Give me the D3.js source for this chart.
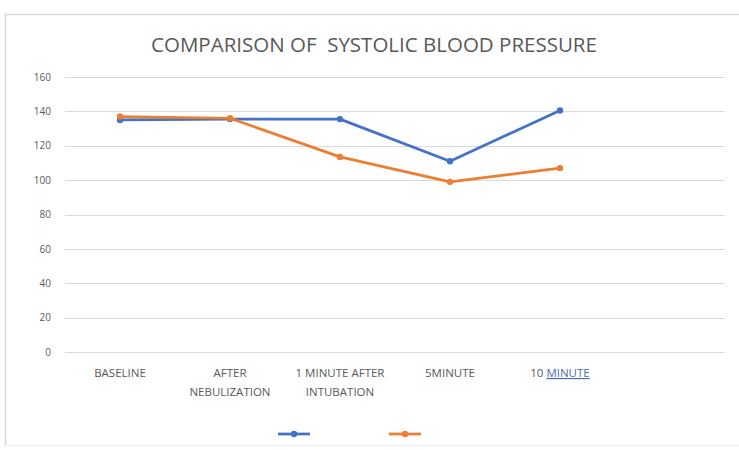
<!DOCTYPE html>
<html>
<head>
<meta charset="utf-8">
<script src="https://cdn.jsdelivr.net/npm/d3@7"></script>
<style>
  body { margin: 0; background: #fff; }
  text { font-family: "Open Sans", "Liberation Sans", sans-serif; fill: #595959; }
</style>
</head>
<body>
<div id="chart"></div>
<script>
// Chart data
const CATEGORIES = ['BASELINE', 'AFTER NEBULIZATION', '1 MINUTE AFTER INTUBATION', '5MINUTE', '10 MINUTE', ''];
const SERIES_A = [135, 135.5, 135.5, 111, 140.5];
const SERIES_B = [137, 136, 113.5, 99, 107];
const Y_TICKS = [0, 20, 40, 60, 80, 100, 120, 140, 160];
const TITLE = 'COMPARISON OF  SYSTOLIC BLOOD PRESSURE';

const WIDTH = 739, HEIGHT = 450;
const MARGIN = {top: 77, right: 14, bottom: 98, left: 65};
const COLORS = ['#4472C4', '#ED7D31'];

const svg = d3.select('#chart').append('svg')
  .attr('width', WIDTH)
  .attr('height', HEIGHT);

// Outer frame
svg.append('path')
  .attr('d', `M5.5,${HEIGHT - 4}V14.5H${WIDTH}`)
  .attr('fill', 'none')
  .attr('stroke', '#d9d9d9')
  .attr('stroke-width', 1.5);
svg.append('line')
  .attr('x1', 5).attr('x2', WIDTH)
  .attr('y1', HEIGHT - 4.5).attr('y2', HEIGHT - 4.5)
  .attr('stroke', '#eeeeee');

const innerW = WIDTH - MARGIN.left - MARGIN.right;
const innerH = HEIGHT - MARGIN.top - MARGIN.bottom;

const g = svg.append('g')
  .attr('transform', `translate(${MARGIN.left}, ${MARGIN.top})`);

const x = d3.scaleBand().domain(CATEGORIES).range([0, innerW]);
const y = d3.scaleLinear().domain([0, 160]).range([innerH, 0]);

// Title
svg.append('text')
  .attr('x', 374)
  .attr('y', 52)
  .attr('text-anchor', 'middle')
  .style('font-size', '20.5px')
  .style('white-space', 'pre')
  .attr('xml:space', 'preserve')
  .text(TITLE);

// Gridlines
g.append('g')
  .selectAll('line')
  .data(Y_TICKS)
  .join('line')
  .attr('x1', 0).attr('x2', innerW)
  .attr('y1', d => Math.round(y(d)) + 0.5)
  .attr('y2', d => Math.round(y(d)) + 0.5)
  .attr('stroke', '#d9d9d9');

// Y axis labels
const yAxis = g.append('g')
  .call(d3.axisLeft(y).tickValues(Y_TICKS).tickSize(0).tickPadding(14));
yAxis.select('.domain').remove();
yAxis.selectAll('text')
  .style('font-size', '10px')
  .attr('fill', '#595959')
  .style('font-family', '"Open Sans", sans-serif');

// X axis labels (wrapped)
const wrapLines = {
  'AFTER NEBULIZATION': ['AFTER', 'NEBULIZATION'],
  '1 MINUTE AFTER INTUBATION': ['1 MINUTE AFTER', 'INTUBATION']
};
const xLabels = g.append('g')
  .selectAll('text')
  .data(CATEGORIES.filter(c => c !== ''))
  .join('text')
  .attr('x', d => x(d) + x.bandwidth() / 2)
  .attr('y', innerH + 25)
  .attr('text-anchor', 'middle')
  .style('font-size', '11.5px');

xLabels.each(function(d) {
  const t = d3.select(this);
  if (d === '10 MINUTE') {
    t.append('tspan').text('10 ');
    t.append('tspan')
      .attr('fill', '#4a6fb5')
      .style('text-decoration', 'underline')
      .text('MINUTE');
    return;
  }
  const lines = wrapLines[d] || [d];
  lines.forEach((line, i) => {
    t.append('tspan')
      .attr('x', x(d) + x.bandwidth() / 2)
      .attr('dy', i === 0 ? 0 : 19)
      .text(line);
  });
});

// Lines and markers
const line = d3.line()
  .x((d, i) => x(CATEGORIES[i]) + x.bandwidth() / 2)
  .y(d => y(d));

[SERIES_A, SERIES_B].forEach((series, s) => {
  g.append('path')
    .datum(series)
    .attr('fill', 'none')
    .attr('stroke', COLORS[s])
    .attr('stroke-width', 2.75)
    .attr('stroke-linejoin', 'round')
    .attr('d', line);

  g.append('g')
    .selectAll('circle')
    .data(series)
    .join('circle')
    .attr('cx', (d, i) => x(CATEGORIES[i]) + x.bandwidth() / 2)
    .attr('cy', d => y(d))
    .attr('r', 3.2)
    .attr('fill', COLORS[s]);
});

// Legend (no series names)
const LEGEND_X = [278, 389];
LEGEND_X.forEach((lx, s) => {
  const lg = svg.append('g').attr('transform', `translate(${lx}, 434)`);
  lg.append('line')
    .attr('x1', 0).attr('x2', 32)
    .attr('stroke', COLORS[s])
    .attr('stroke-width', 2.75);
  lg.append('circle')
    .attr('cx', 16)
    .attr('r', 3.2)
    .attr('fill', COLORS[s]);
});
</script>
</body>
</html>
